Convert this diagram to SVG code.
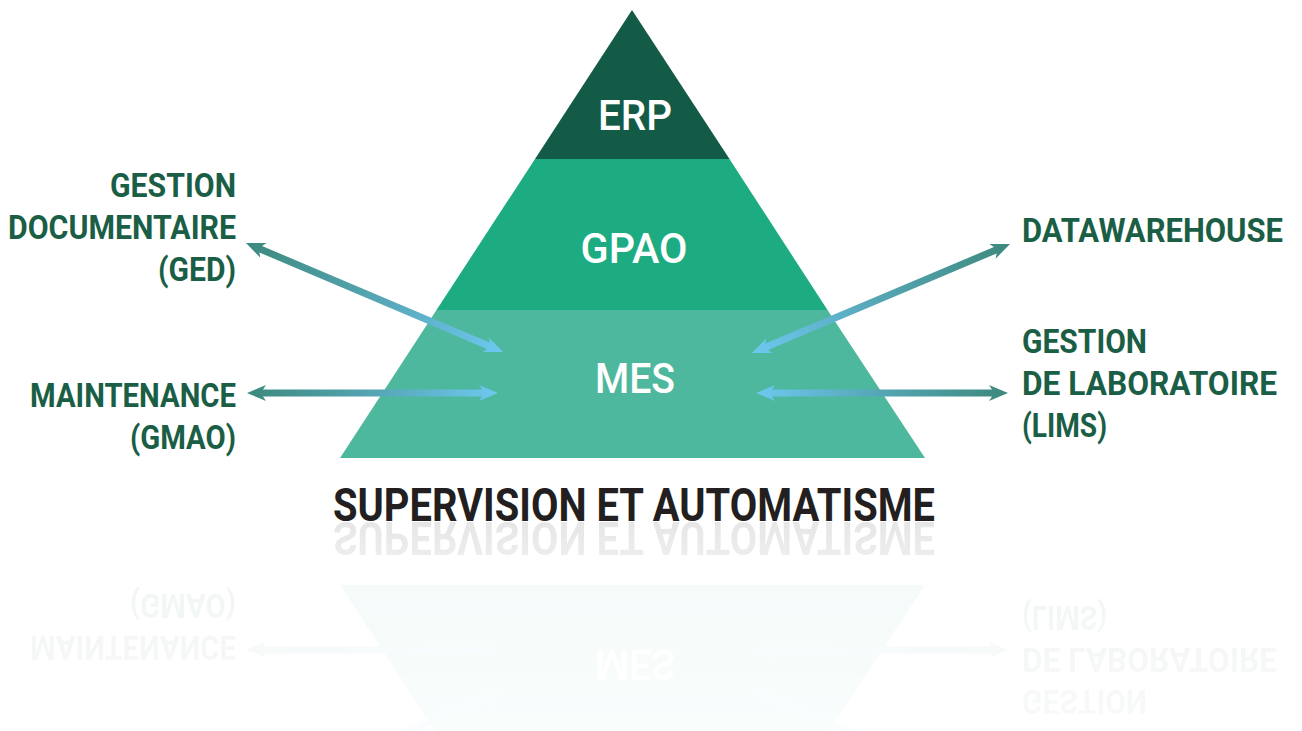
<svg xmlns="http://www.w3.org/2000/svg" xmlns:xlink="http://www.w3.org/1999/xlink" width="1302" height="731" viewBox="0 0 1302 731">
<style>
.lbl{font-family:"Roboto","Liberation Sans",sans-serif;font-weight:700;font-size:33px;fill:#1b5e46}
.lbl-r{text-anchor:start}
.lbl-l{text-anchor:end}
.lvl{font-family:"Roboto","Liberation Sans",sans-serif;font-weight:500;font-size:42px;fill:#ffffff;text-anchor:middle}
.base{font-family:"Roboto","Liberation Sans",sans-serif;font-weight:700;font-size:47px;fill:#231f20}
</style>
<defs>
<linearGradient id="gTealBlue" x1="0" y1="0" x2="1" y2="0">
<stop offset="0" stop-color="#3d897d"/>
<stop offset="0.55" stop-color="#57a8b9"/>
<stop offset="1" stop-color="#6ec8f0"/>
</linearGradient>
<linearGradient id="gFade" gradientUnits="userSpaceOnUse" x1="0" y1="522" x2="0" y2="731">
<stop offset="0" stop-color="#fff" stop-opacity="0.11"/>
<stop offset="0.3" stop-color="#fff" stop-opacity="0.06"/>
<stop offset="1" stop-color="#fff" stop-opacity="0.03"/>
</linearGradient>
<mask id="fade" maskUnits="userSpaceOnUse" x="0" y="522" width="1302" height="209">
<rect x="0" y="522" width="1302" height="209" fill="url(#gFade)"/>
</mask>
</defs>
<rect width="1302" height="731" fill="#ffffff"/>
<g id="scene">
<g id="node-mes">
<polygon points="436.5,310 827.5,310 925,458 340,458" fill="#4db89d"/>
<text class="lvl" x="635" y="393" textLength="80" lengthAdjust="spacingAndGlyphs">MES</text>
</g>
<g id="node-gpao">
<polygon points="535,159 729.5,159 827.5,310 436.5,310" fill="#1dac81"/>
<text class="lvl" x="634" y="263" textLength="107" lengthAdjust="spacingAndGlyphs">GPAO</text>
</g>
<g id="node-erp">
<polygon points="632,10 729.5,159 535,159" fill="#135b47"/>
<text class="lvl" x="635" y="130" textLength="74" lengthAdjust="spacingAndGlyphs">ERP</text>
</g>
<g id="connectors">
<path transform="translate(246,243) rotate(22.98)" fill="url(#gTealBlue)" d="M0,0 L19,-8 L16,-3.5 L263.2,-3.5 L260.2,-8 L279.2,0 L260.2,8 L263.2,3.5 L16,3.5 L19,8 Z"/>
<path transform="translate(247,393)" fill="url(#gTealBlue)" d="M0,0 L19,-8 L16,-3.5 L235,-3.5 L232,-8 L251,0 L232,8 L235,3.5 L16,3.5 L19,8 Z"/>
<path transform="translate(1010,244) rotate(157.1)" fill="url(#gTealBlue)" d="M0,0 L19,-8 L16,-3.5 L264.1,-3.5 L261.1,-8 L280.1,0 L261.1,8 L264.1,3.5 L16,3.5 L19,8 Z"/>
<path transform="translate(1008,393) rotate(180)" fill="url(#gTealBlue)" d="M0,0 L19,-8 L16,-3.5 L236,-3.5 L233,-8 L252,0 L233,8 L236,3.5 L16,3.5 L19,8 Z"/>
</g>
<g id="label-ged">
<text class="lbl lbl-l" x="236" y="197" textLength="126" lengthAdjust="spacingAndGlyphs">GESTION</text>
<text class="lbl lbl-l" x="236" y="239" textLength="228" lengthAdjust="spacingAndGlyphs">DOCUMENTAIRE</text>
<text class="lbl lbl-l" x="236" y="281" textLength="78" lengthAdjust="spacingAndGlyphs">(GED)</text>
</g>
<g id="label-gmao">
<text class="lbl lbl-l" x="236" y="407" textLength="206" lengthAdjust="spacingAndGlyphs">MAINTENANCE</text>
<text class="lbl lbl-l" x="236" y="449" textLength="106" lengthAdjust="spacingAndGlyphs">(GMAO)</text>
</g>
<g id="label-dw">
<text class="lbl lbl-r" x="1022" y="242" textLength="261" lengthAdjust="spacingAndGlyphs">DATAWAREHOUSE</text>
</g>
<g id="label-lims">
<text class="lbl lbl-r" x="1022" y="353" textLength="125" lengthAdjust="spacingAndGlyphs">GESTION</text>
<text class="lbl lbl-r" x="1022" y="395" textLength="255" lengthAdjust="spacingAndGlyphs">DE LABORATOIRE</text>
<text class="lbl lbl-r" x="1022" y="437" textLength="85" lengthAdjust="spacingAndGlyphs">(LIMS)</text>
</g>
<g id="label-base">
<text class="base" x="333" y="521" textLength="602" lengthAdjust="spacingAndGlyphs">SUPERVISION ET AUTOMATISME</text>
</g>
</g>
<g id="reflection" mask="url(#fade)">
<use xlink:href="#scene" href="#scene" transform="matrix(1 0 0 -1 0 1043)"/>
</g>
</svg>
